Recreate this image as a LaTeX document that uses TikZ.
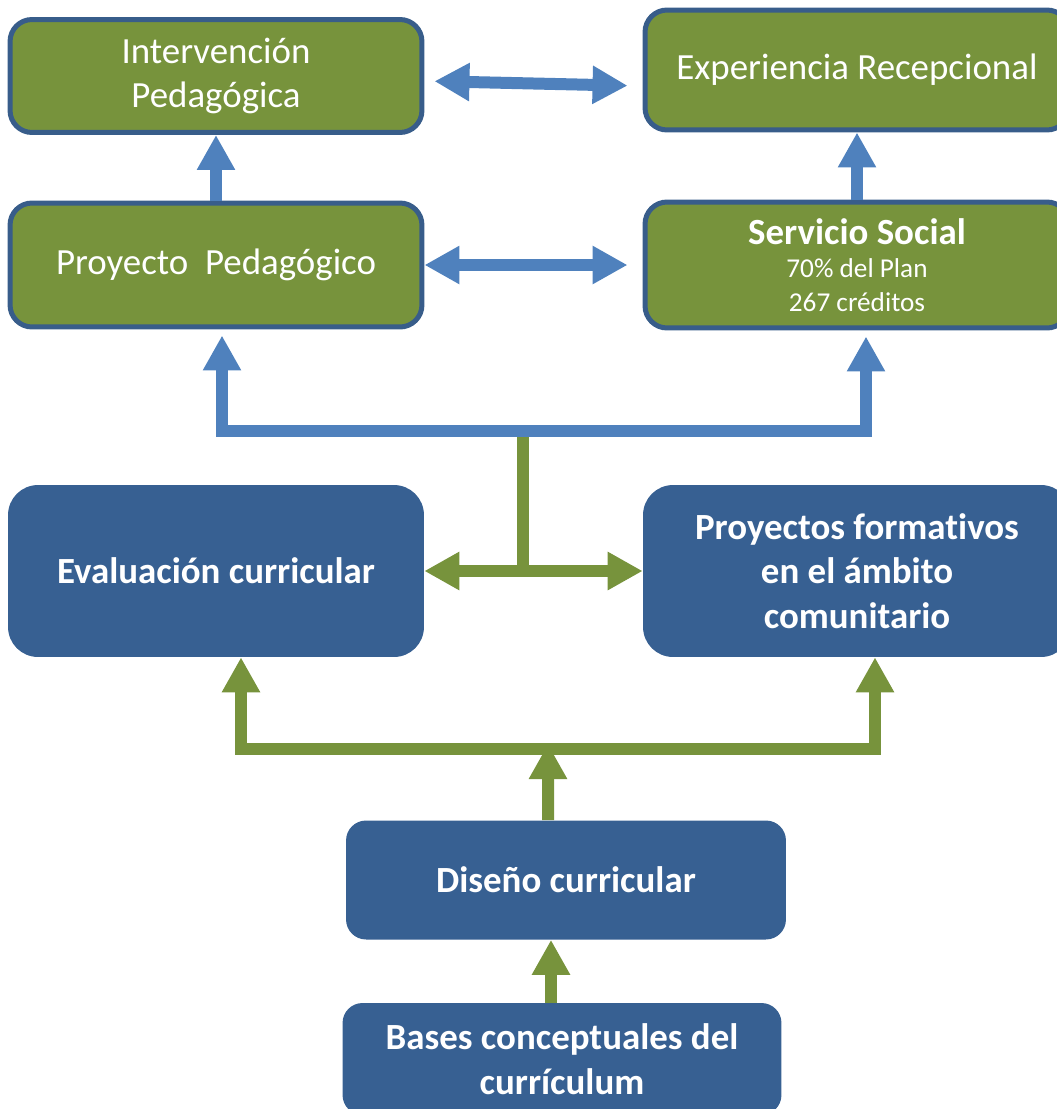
\documentclass[tikz,border=0pt]{standalone}
\usepackage{fontspec}
\setmainfont{Carlito}[Ligatures=NoCommon]
\usepackage{tikz}
\usetikzlibrary{arrows.meta,positioning}

\definecolor{verde}{HTML}{77933C}
\definecolor{azul}{HTML}{376092}
\definecolor{azulclaro}{HTML}{4F81BD}
\definecolor{borde}{HTML}{385D8A}

\begin{document}
\begin{tikzpicture}[x=0.02cm,y=-0.02cm,>={Triangle[width=0.72cm,length=0.7cm]},line join=miter]
    \tikzset{vcaja/.style={draw=borde,line width=0.1cm,fill=verde,text=white,rounded corners=0.44cm,
        minimum width=8.24cm,align=center,font=\fontsize{21}{25.5}\selectfont},
      acaja/.style={fill=azul,text=white,rounded corners=0.6cm,minimum width=8.32cm,minimum height=3.44cm,
        align=center,font=\fontsize{21}{25.5}\selectfont\bfseries},
      bflecha/.style={draw=azulclaro,line width=0.24cm,->},
      gflecha/.style={draw=verde,line width=0.24cm,->}}
    \useasboundingbox (0,0) rectangle (1057,1109);

    \node[vcaja,minimum height=2.26cm] (interv) at (216,76) {Intervención\\Pedagógica};
    \node[vcaja,minimum height=2.4cm,minimum width=8.48cm] (exper) at (857,70) {Experiencia Recepcional};
    \node[vcaja,minimum height=2.48cm] (proy) at (216,265) {Proyecto~~Pedagógico};
    \node[vcaja,minimum height=2.52cm,minimum width=8.48cm,font=\fontsize{15.5}{19}\selectfont] (serv) at (857,265)
        {{\fontsize{21}{25}\selectfont\bfseries Servicio Social}\\70\% del Plan\\267 créditos};

    \node[acaja] (eval) at (216,571) {Evaluación curricular};
    \node[acaja,minimum width=8.56cm] (form) at (857,571) {Proyectos formativos\\en el ámbito\\comunitario};
    \node[acaja,minimum width=8.8cm,minimum height=2.38cm,rounded corners=0.4cm] (dise) at (566,880) {Diseño curricular};
    \node[acaja,minimum width=8.78cm,minimum height=2.24cm,rounded corners=0.4cm] (bases) at (562,1059)
        {Bases conceptuales del\\currículum};

    % upper level
    \draw[bflecha] (proy) -- (interv);
    \draw[bflecha] (serv) -- (exper);
    \draw[bflecha,<->,shorten <=0.2cm,shorten >=0.3cm] ([yshift=-0.1cm]interv.east) -- ([yshift=-0.32cm]exper.west);
    \draw[bflecha,<->,shorten >=0.3cm] (proy) -- (serv);

    \coordinate (bh) at (523,431);
    \draw[gflecha,-] (bh) -- (bh |- eval.east);
    \draw[bflecha,shorten >=0.12cm] (bh) -| ([xshift=0.12cm]proy.south);
    \draw[bflecha,shorten >=0.12cm] (bh) -| ([xshift=0.18cm]serv.south);

    % lower level
    \draw[gflecha,<->] (eval) -- (form);
    \coordinate (gh) at (548,749);
    \draw[gflecha] (gh) -| ([xshift=0.5cm]eval.south);
    \draw[gflecha] (gh) -| ([xshift=0.36cm]form.south);
    \draw[gflecha,shorten >=-0.1cm] ([xshift=-0.36cm]dise.north) -- (gh);
    \coordinate (bb) at ([xshift=-0.22cm]bases.north);
    \draw[gflecha] (bb) -- (bb |- dise.south);
\end{tikzpicture}
\end{document}
